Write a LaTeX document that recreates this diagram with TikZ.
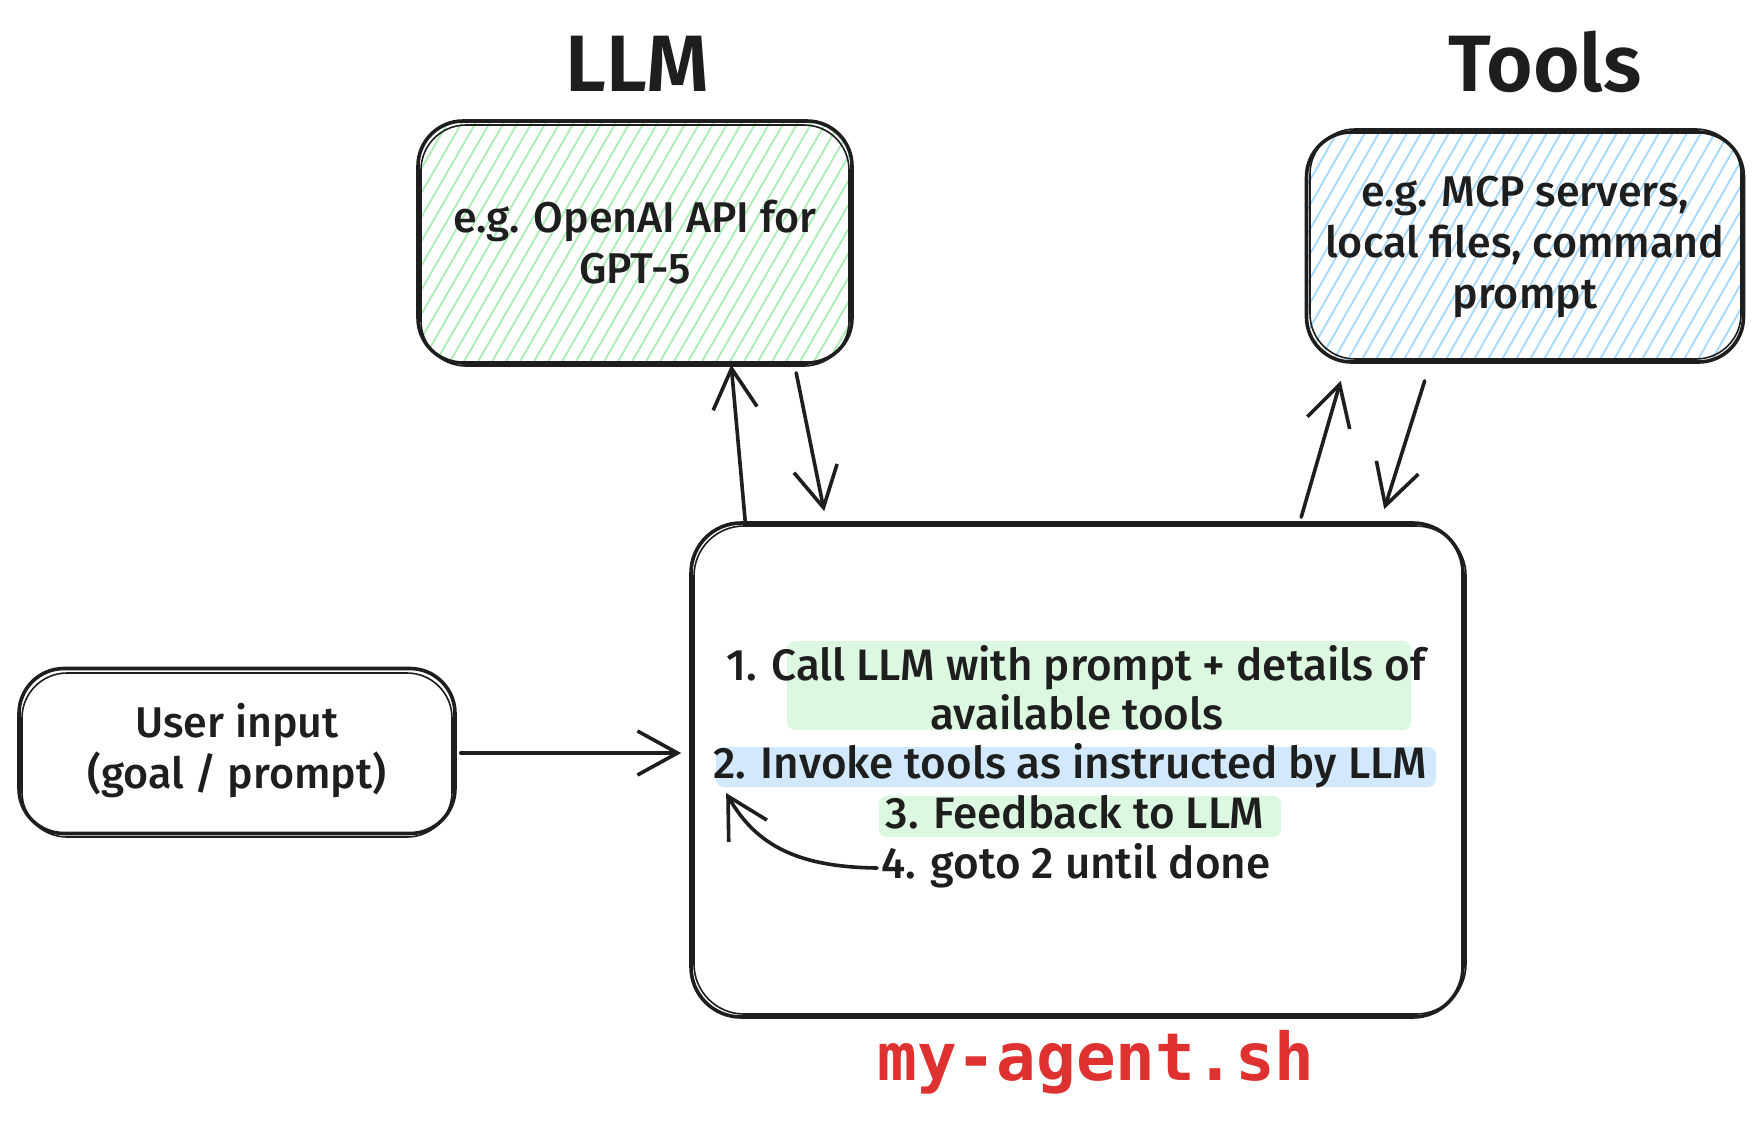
\documentclass[tikz,border=0pt]{standalone}
\usepackage{fontspec}
\setmainfont{Fira Sans}[UprightFont={* Medium}, BoldFont={* SemiBold}]
\setmonofont{DejaVu Sans Mono}
\usetikzlibrary{arrows.meta}
\definecolor{ink}{HTML}{1E1E1E}
\definecolor{hatchgreen}{HTML}{A9EDB4}
\definecolor{hatchblue}{HTML}{A5D8FF}
\definecolor{hlgreen}{HTML}{DDF8E1}
\definecolor{hlblue}{HTML}{D2E9FD}
\definecolor{agentred}{HTML}{E03131}
\tikzset{
  sketchbox/.style={draw=ink, line width=3.6pt, rounded corners=45pt, inner sep=0pt, align=center, text=ink},
  sketchtwo/.style={draw=ink, line width=1.6pt, rounded corners=45pt},
  arr/.style={draw=ink, line width=3.6pt, line cap=round, -{Straight Barb[length=40pt,width=44pt,line width=3.6pt]}},
  stepline/.style={text=ink, inner sep=0pt, text height=31pt, text depth=10pt, font=\fontsize{44}{50}\selectfont},
  boxfont/.style={font=\fontsize{43}{51}\selectfont},
  titlefont/.style={text=ink, font=\bfseries\fontsize{80}{84}\selectfont},
  hatch/.style={line width=1.8pt}
}
\begin{document}
\begin{tikzpicture}[x=1pt,y=-1pt]
\useasboundingbox (0,0) rectangle (1762,1128);
\fill[white] (0,0) rectangle (1762,1128);

% hatch fills
\begin{scope}
\clip[rounded corners=45pt] (418,121) rectangle (852,363);
\foreach \x in {262,276,...,870} \draw[hatchgreen, hatch] (\x,372) -- (\x+150,112);
\end{scope}
\begin{scope}
\clip[rounded corners=45pt] (1307,132) rectangle (1744,362);
\foreach \x in {1160,1174,...,1760} \draw[hatchblue, hatch] (\x,370) -- (\x+140,124);
\end{scope}

% titles
\node[titlefont] (llmtitle) at (637,64) {LLM};
\node[titlefont] (toolstitle) at (1545,62) {Tools};

% boxes
\node[sketchbox, boxfont, minimum width=434pt, minimum height=242pt] (llm) at (635,242)
  {e.g. OpenAI API for\\GPT-5};
\draw[sketchtwo] (421,125) rectangle (849,366);

\node[sketchbox, boxfont, minimum width=437pt, minimum height=230pt] (tools) at (1525,247)
  {e.g. MCP servers,\\local files, command\\prompt};
\draw[sketchtwo] (1310,129) rectangle (1741,359);

\node[sketchbox, boxfont, minimum width=436pt, minimum height=165pt] (user) at (237,751)
  {User input\\(goal / prompt)};
\draw[sketchtwo] (22,673) rectangle (452,837);

\node[sketchbox, rounded corners=50pt, minimum width=772pt, minimum height=494pt] (agent) at (1077,770) {};
\draw[sketchtwo, rounded corners=50pt] (694,526) rectangle (1466,1014);

% highlights
\fill[hlgreen, rounded corners=8pt] (787,641) rectangle (1411,730);
\fill[hlblue, rounded corners=8pt] (716,747) rectangle (1436,787);
\fill[hlgreen, rounded corners=8pt] (879,796) rectangle (1281,837);

% steps
\node[stepline] (s1a) at (1076,670) {1. Call LLM with prompt + details of};
\node[stepline] (s1b) at (1077,719) {available tools};
\node[stepline] (s2) at (1070,768) {2. Invoke tools as instructed by LLM};
\node[stepline] (s3) at (1075,818) {3. Feedback to LLM};
\node[stepline] (s4) at (1076,868) {4. goto 2 until done};

% label
\node[text=agentred, font=\ttfamily\bfseries\fontsize{66}{70}\selectfont] (agentlabel) at (1096,1062) {my-agent.sh};

% connectors
\draw[arr] (user.east |- 0,753) ++(4,0) coordinate (ustart) -- ([xshift=-8pt]agent.west |- 0,753);
\draw[arr] ([xshift=56pt]agent.north west) -- ([xshift=315pt]llm.south west);
\draw[arr] ([xshift=380pt,yshift=-8pt]llm.south west) -- ([xshift=135pt,yshift=10pt]agent.north west);
\draw[arr] ([xshift=612pt,yshift=4pt]agent.north west) -- ([xshift=36pt,yshift=-17pt]tools.south west);
\draw[arr] ([xshift=120pt,yshift=-17pt]tools.south west) -- ([xshift=695pt,yshift=12pt]agent.north west);
\coordinate (loopend) at ([xshift=13pt,yshift=-25pt]s2.west);
\draw[arr] ([xshift=-4pt]s4.west) .. controls (800,867) and (757,847) .. (loopend);
\end{tikzpicture}
\end{document}
